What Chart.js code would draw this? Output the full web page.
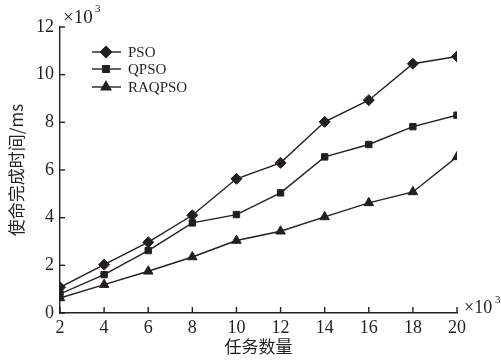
<!DOCTYPE html>
<html>
<head>
<meta charset="utf-8">
<script src="https://cdn.jsdelivr.net/npm/chart.js@4/dist/chart.umd.min.js"></script>
<style>
  html, body { margin: 0; padding: 0; background: #fff; }
  #wrap { width: 501px; height: 360px; }
</style>
</head>
<body>
<div id="wrap"><canvas id="chart" width="501" height="360"></canvas></div>
<script>
// data (both axes x10^3)
var tasks  = [2, 4, 6, 8, 10, 12, 14, 16, 18, 20];
var pso    = [1.08, 2.03, 2.97, 4.10, 5.63, 6.30, 8.02, 8.93, 10.46, 10.76];
var qpso   = [0.80, 1.61, 2.62, 3.78, 4.13, 5.04, 6.55, 7.07, 7.82, 8.30];
var raqpso = [0.63, 1.19, 1.75, 2.35, 3.04, 3.43, 4.03, 4.62, 5.08, 6.55];
var seriesNames = ['PSO', 'QPSO', 'RAQPSO'];

var INK = '#231f20';
var SERIF = '"Liberation Serif", "Times New Roman", serif';

function pts(vals) {
	return tasks.map(function (t, i) { return { x: t, y: vals[i] }; });
}

function series(name, vals, style, radius) {
	return {
		label: name,
		data: pts(vals),
		borderColor: INK,
		backgroundColor: INK,
		borderWidth: 1.4,
		pointStyle: style,
		pointRadius: radius,
		pointBorderWidth: 1,
		pointBackgroundColor: INK,
		pointBorderColor: INK,
		tension: 0
	};
}

/*-------------------------------------------------------------------------*/
// inward ticks, legend and x10^3 notes
/*-------------------------------------------------------------------------*/
var decorPlugin = {
	id: 'decor',
	afterDraw: function (chart) {
		var ctx = chart.ctx;
		var xs = chart.scales.x, ys = chart.scales.y;
		var area = chart.chartArea;
		ctx.save();
		ctx.strokeStyle = INK;
		ctx.lineWidth = 1.4;
		xs.ticks.forEach(function (t) {
			var px = xs.getPixelForValue(t.value);
			ctx.beginPath();
			ctx.moveTo(px, area.bottom);
			ctx.lineTo(px, area.bottom - 6);
			ctx.stroke();
		});
		ys.ticks.forEach(function (t) {
			var py = ys.getPixelForValue(t.value);
			ctx.beginPath();
			ctx.moveTo(area.left, py);
			ctx.lineTo(area.left + 5, py);
			ctx.stroke();
		});

		// legend
		var rows = [52, 69, 87];
		ctx.font = '15px ' + SERIF;
		ctx.textBaseline = 'middle';
		ctx.textAlign = 'left';
		ctx.fillStyle = INK;
		chart.data.datasets.forEach(function (ds, i) {
			var y = rows[i];
			ctx.beginPath();
			ctx.moveTo(92, y);
			ctx.lineTo(121, y);
			ctx.stroke();
			Chart.helpers.drawPoint(ctx, {
				pointStyle: ds.pointStyle,
				radius: ds.pointRadius,
				borderWidth: 1
			}, 106, y);
			ctx.fill();
			ctx.fillText(seriesNames[i], 128, y + 1);
		});

		// multiplier notes
		ctx.textBaseline = 'alphabetic';
		ctx.font = '19px ' + SERIF;
		ctx.fillText('\u00d710', 63, 23);
		ctx.font = '11px ' + SERIF;
		ctx.fillText('3', 95, 12);
		ctx.font = '18px ' + SERIF;
		ctx.fillText('\u00d710', 464, 313);
		ctx.font = '11px ' + SERIF;
		ctx.fillText('3', 495, 303);
		ctx.restore();
	}
};

new Chart(document.getElementById('chart'), {
	type: 'line',
	data: {
		datasets: [
			series(seriesNames[0], pso, 'rectRot', 5.5),
			series(seriesNames[1], qpso, 'rect', 4.5),
			series(seriesNames[2], raqpso, 'triangle', 5.5)
		]
	},
	options: {
		responsive: false,
		animation: false,
		devicePixelRatio: 1,
		layout: { padding: { top: 27, right: 44, left: 0, bottom: 0 } },
		plugins: {
			legend: { display: false },
			tooltip: { enabled: false }
		},
		scales: {
			x: {
				type: 'linear',
				min: 2,
				max: 20,
				grid: { display: false, drawTicks: false },
				border: { display: true, color: INK, width: 1.4 },
				ticks: {
					stepSize: 2,
					padding: 4,
					color: INK,
					maxRotation: 0,
					font: { family: SERIF, size: 18 }
				},
				title: {
					display: true,
					text: '任务数量',
					color: INK,
					padding: { top: 0, bottom: 3 },
					font: { family: '"Noto Sans CJK SC", sans-serif', size: 17 }
				},
				afterFit: function (s) { s.height = 47; }
			},
			y: {
				min: 0,
				max: 12,
				grid: { display: false, drawTicks: false },
				border: { display: true, color: INK, width: 1.4 },
				ticks: {
					stepSize: 2,
					padding: 6,
					color: INK,
					font: { family: SERIF, size: 18 }
				},
				title: {
					display: true,
					text: '使命完成时间/ms',
					color: INK,
					padding: { top: 6, bottom: 0 },
					font: { family: '"Noto Sans CJK SC", sans-serif', size: 17 }
				},
				afterFit: function (s) { s.width = 60; }
			}
		}
	},
	plugins: [decorPlugin]
});
</script>
</body>
</html>
